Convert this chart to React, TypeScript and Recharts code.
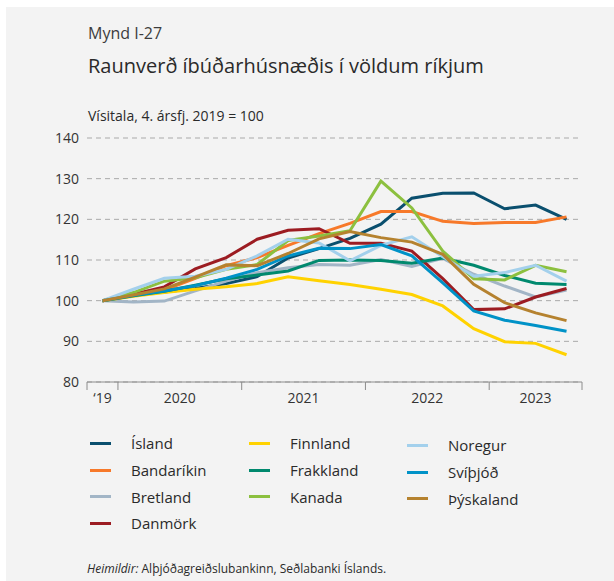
import { CartesianGrid, Line, LineChart, XAxis, YAxis } from "recharts";

const quarters = [
  "2019Q4",
  "2020Q1", "2020Q2", "2020Q3", "2020Q4",
  "2021Q1", "2021Q2", "2021Q3", "2021Q4",
  "2022Q1", "2022Q2", "2022Q3", "2022Q4",
  "2023Q1", "2023Q2", "2023Q3",
];

const island = [100, 101.8, 102.1, 103.0, 104.2, 105.9, 110.5, 112.8, 115.3, 118.8, 125.2, 126.4, 126.5, 122.6, 123.5, 120.0];
const bandarikin = [100, 101.2, 102.6, 105.5, 108.6, 110.6, 113.6, 116.5, 119.0, 121.9, 121.9, 119.5, 119.0, 119.2, 119.2, 120.6];
const bretland = [100, 99.7, 99.9, 102.4, 104.8, 106.9, 108.1, 108.9, 108.7, 110.1, 108.4, 110.4, 106.5, 103.6, 100.9, 102.6];
const danmork = [100, 101.6, 103.4, 107.8, 110.6, 115.1, 117.3, 117.7, 114.1, 114.1, 112.2, 105.4, 97.8, 98.0, 100.9, 103.0];
const finnland = [100, 101.1, 102.0, 102.8, 103.4, 104.2, 105.9, 104.9, 104.0, 102.8, 101.5, 98.7, 93.1, 89.9, 89.5, 86.7];
const frakkland = [100, 101.2, 102.3, 103.8, 105.4, 106.3, 107.3, 109.9, 110.0, 109.9, 109.2, 110.5, 108.7, 106.2, 104.3, 104.0];
const kanada = [100, 102.0, 104.8, 105.6, 107.7, 108.9, 114.8, 115.9, 117.2, 129.4, 122.8, 112.2, 105.4, 105.1, 108.7, 107.1];
const noregur = [100, 102.8, 105.5, 106.0, 107.7, 111.0, 115.1, 114.2, 109.8, 113.6, 115.7, 110.8, 106.0, 106.9, 108.7, 104.8];
const svithjod = [100, 101.3, 102.4, 103.7, 105.5, 107.7, 111.0, 112.9, 112.8, 113.8, 111.0, 104.4, 97.5, 95.2, 93.9, 92.5];
const thyskaland = [100, 101.4, 102.9, 105.8, 108.8, 108.6, 111.6, 115.2, 117.0, 115.5, 114.4, 111.4, 104.0, 99.5, 97.0, 95.1];

const yTicks = [80, 90, 100, 110, 120, 130, 140];

const yearLabels = [
  { label: "\u201819", first: "2019Q4", last: "2019Q4" },
  { label: "2020", first: "2020Q1", last: "2020Q4" },
  { label: "2021", first: "2021Q1", last: "2021Q4" },
  { label: "2022", first: "2022Q1", last: "2022Q4" },
  { label: "2023", first: "2023Q1", last: "2023Q3" },
];

const series = [
  { key: "island", name: "Ísland", color: "#0a4f6e", values: island },
  { key: "bandarikin", name: "Bandaríkin", color: "#f7792a", values: bandarikin },
  { key: "bretland", name: "Bretland", color: "#a2b5c6", values: bretland },
  { key: "danmork", name: "Danmörk", color: "#9c1c22", values: danmork },
  { key: "finnland", name: "Finnland", color: "#ffd200", values: finnland },
  { key: "frakkland", name: "Frakkland", color: "#00896e", values: frakkland },
  { key: "kanada", name: "Kanada", color: "#8cc03f", values: kanada },
  { key: "noregur", name: "Noregur", color: "#a3d0ec", values: noregur },
  { key: "svithjod", name: "Svíþjóð", color: "#0092c7", values: svithjod },
  { key: "thyskaland", name: "Þýskaland", color: "#b5822f", values: thyskaland },
];

// legend is laid out in three columns like the original
const legendColumns = [
  ["island", "bandarikin", "bretland", "danmork"],
  ["finnland", "frakkland", "kanada"],
  ["noregur", "svithjod", "thyskaland"],
];

const data = quarters.map((q, i) => {
  const row: Record<string, string | number> = { q };
  series.forEach((s) => (row[s.key] = s.values[i]));
  return row;
});

const FONT = "'Open Sans', 'Noto Sans', sans-serif";
const CHART_W = 614;
const M_LEFT = 0;
const Y_W = 87;
const M_RIGHT = 32;
const BAND = (CHART_W - M_LEFT - Y_W - M_RIGHT) / quarters.length;

function XTick(props: any) {
  const { x, y, payload } = props;
  const q = payload.value as string;
  const idx = quarters.indexOf(q);
  const year = yearLabels.find((l) => l.first === q);
  const parts = [];
  if (year) {
    const span = quarters.indexOf(year.last) - idx;
    parts.push(
      <line key="t" x1={x - BAND / 2} x2={x - BAND / 2} y1={y} y2={y + 8} stroke="#8c8c8c" />
    );
    parts.push(
      <text
        key="l"
        x={x + (span * BAND) / 2}
        y={y + 21}
        textAnchor="middle"
        fontSize={14}
        fill="#333"
        fontFamily={FONT}
      >
        {year.label}
      </text>
    );
  }
  if (idx === quarters.length - 1) {
    parts.push(
      <line key="e" x1={x + BAND / 2} x2={x + BAND / 2} y1={y} y2={y + 8} stroke="#8c8c8c" />
    );
  }
  return <g>{parts}</g>;
}

export default function App() {
  return (
    <div style={{ position: "absolute", left: 0, top: 0, width: 614, height: 581, background: "#fff", fontFamily: FONT }}>
      <div style={{ position: "absolute", left: 6, top: 7, width: 608, height: 574, background: "#f3f3f3" }} />
      <div style={{ position: "absolute", left: 88, top: 22, fontSize: 16, color: "#3c3c3c" }}>Mynd I-27</div>
      <div style={{ position: "absolute", left: 88, top: 52, fontSize: 20, color: "#2a2a2a" }}>
        Raunverð íbúðarhúsnæðis í völdum ríkjum
      </div>
      <div style={{ position: "absolute", left: 88, top: 106, fontSize: 14, color: "#2a2a2a" }}>
        Vísitala, 4. ársfj. 2019 = 100
      </div>
      <div style={{ position: "absolute", left: 0, top: 0 }}>
        <LineChart
          width={CHART_W}
          height={416}
          data={data}
          margin={{ top: 138, right: M_RIGHT, left: M_LEFT, bottom: 0 }}
        >
          <CartesianGrid vertical={false} stroke="#a9a9a9" strokeDasharray="5 4" />
          <XAxis
            dataKey="q"
            scale="band"
            interval={0}
            height={34}
            tickLine={false}
            tickSize={0}
            tickMargin={0}
            axisLine={{ stroke: "#8c8c8c" }}
            tick={<XTick />}
          />
          <YAxis
            domain={[80, 140]}
            ticks={yTicks}
            width={Y_W}
            axisLine={false}
            tickLine={false}
            tickSize={0}
            tickMargin={8}
            tick={{ fontSize: 14, fill: "#333", fontFamily: FONT }}
          />
          {series.map((s) => (
            <Line
              key={s.key}
              dataKey={s.key}
              name={s.name}
              stroke={s.color}
              strokeWidth={3}
              dot={false}
              isAnimationActive={false}
            />
          ))}
        </LineChart>
      </div>
      {legendColumns.map((col, ci) => (
        <div key={ci} style={{ position: "absolute", left: [90, 249, 407][ci], top: 430 + (ci === 2 ? 2 : 0) }}>
          {col.map((k) => {
            const s = series.find((x) => x.key === k)!;
            return (
              <div key={k} style={{ display: "flex", alignItems: "center", height: 26.7 }}>
                <div style={{ width: 21, height: 3, background: s.color, marginRight: 20 }} />
                <span style={{ fontSize: 15, color: "#2a2a2a" }}>{s.name}</span>
              </div>
            );
          })}
        </div>
      ))}
      <div style={{ position: "absolute", left: 87, top: 560, fontSize: 12, color: "#2a2a2a" }}>
        <i>Heimildir:</i> Alþjóðagreiðslubankinn, Seðlabanki Íslands.
      </div>
    </div>
  );
}
